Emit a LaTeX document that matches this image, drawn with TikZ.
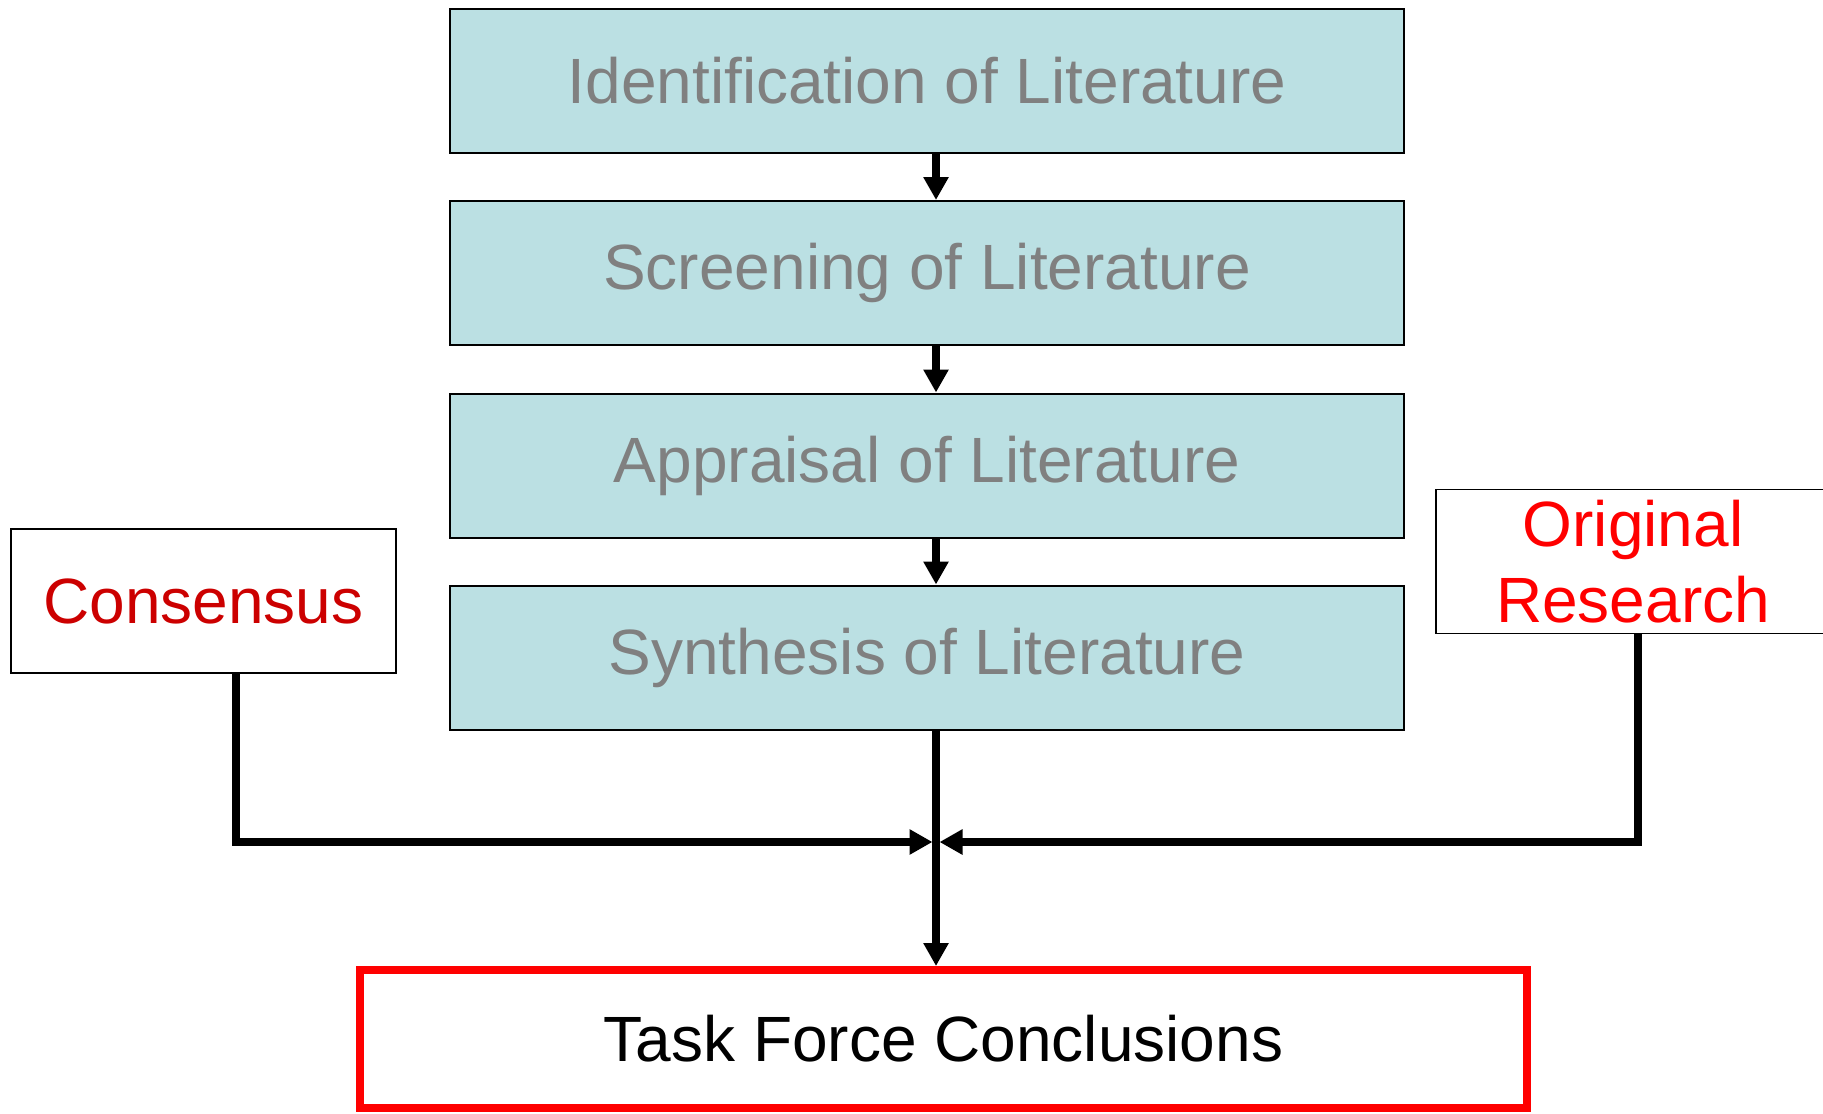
\documentclass[tikz,border=0pt]{standalone}
\usepackage{fontspec}
\setmainfont{Liberation Sans}
\usetikzlibrary{arrows.meta}
\definecolor{boxfill}{RGB}{187,224,227}
\definecolor{graytext}{RGB}{128,128,128}
\definecolor{darkred}{RGB}{204,0,0}
\definecolor{pured}{RGB}{255,0,0}
\tikzset{
  litbox/.style={draw=black, line width=1pt, fill=boxfill, text=graytext,
    minimum width=477pt, minimum height=72pt, inner sep=0pt,
    font=\fontsize{32}{38}\selectfont},
  sidebox/.style={draw=black, line width=0.8pt, fill=white,
    minimum height=72pt, inner sep=0pt, align=center,
    font=\fontsize{32}{38}\selectfont},
  conn/.style={line width=3.6pt, draw=black},
  arr/.style={conn, -{Triangle[length=11.5pt,width=12pt]}}
}
\begin{document}
\begin{tikzpicture}[x=0.5pt,y=-0.5pt]
\useasboundingbox (0,0) rectangle (1823,1113);
\node[litbox] (b1) at (927,81) {\raisebox{-2pt}{Identification of Literature}};
\node[litbox] (b2) at (927,273) {\raisebox{-2pt}{Screening of Literature}};
\node[litbox] (b3) at (927,465.5) {\raisebox{-2pt}{Appraisal of Literature}};
\node[litbox] (b4) at (927,657.5) {\raisebox{-2pt}{Synthesis of Literature}};
\node[sidebox, minimum width=192.5pt, text=darkred] (cons) at (203.5,601) {Consensus};
\begin{scope}
\clip (0,0) rectangle (1823,1113);
\node[sidebox, minimum width=197pt, text=pured] (orig) at (1633,561.5) {Original\\Research};
\end{scope}
\node[draw=pured, line width=4pt, fill=white, minimum width=583.5pt, minimum height=69pt,
      inner sep=0pt, font=\fontsize{32}{38}\selectfont] (tf) at (943.5,1039) {\raisebox{-2pt}{Task Force Conclusions}};
\coordinate (j) at (936,842);
\coordinate (cl) at (236,842);
\coordinate (orr) at (1638,842);
\coordinate (jl) at (932.5,842);
\coordinate (jr) at (939.5,842);
\draw[arr] (b1.south -| j) -- (b2.north -| j);
\draw[arr] (b2.south -| j) -- (b3.north -| j);
\draw[arr] (b3.south -| j) -- (b4.north -| j);
\draw[arr] (b4.south -| j) -- (tf.north -| j);
\draw[arr] (cons.south -| cl) -- (cl) -- (jl);
\draw[arr] (orig.south -| orr) -- (orr) -- (jr);
\end{tikzpicture}
\end{document}
